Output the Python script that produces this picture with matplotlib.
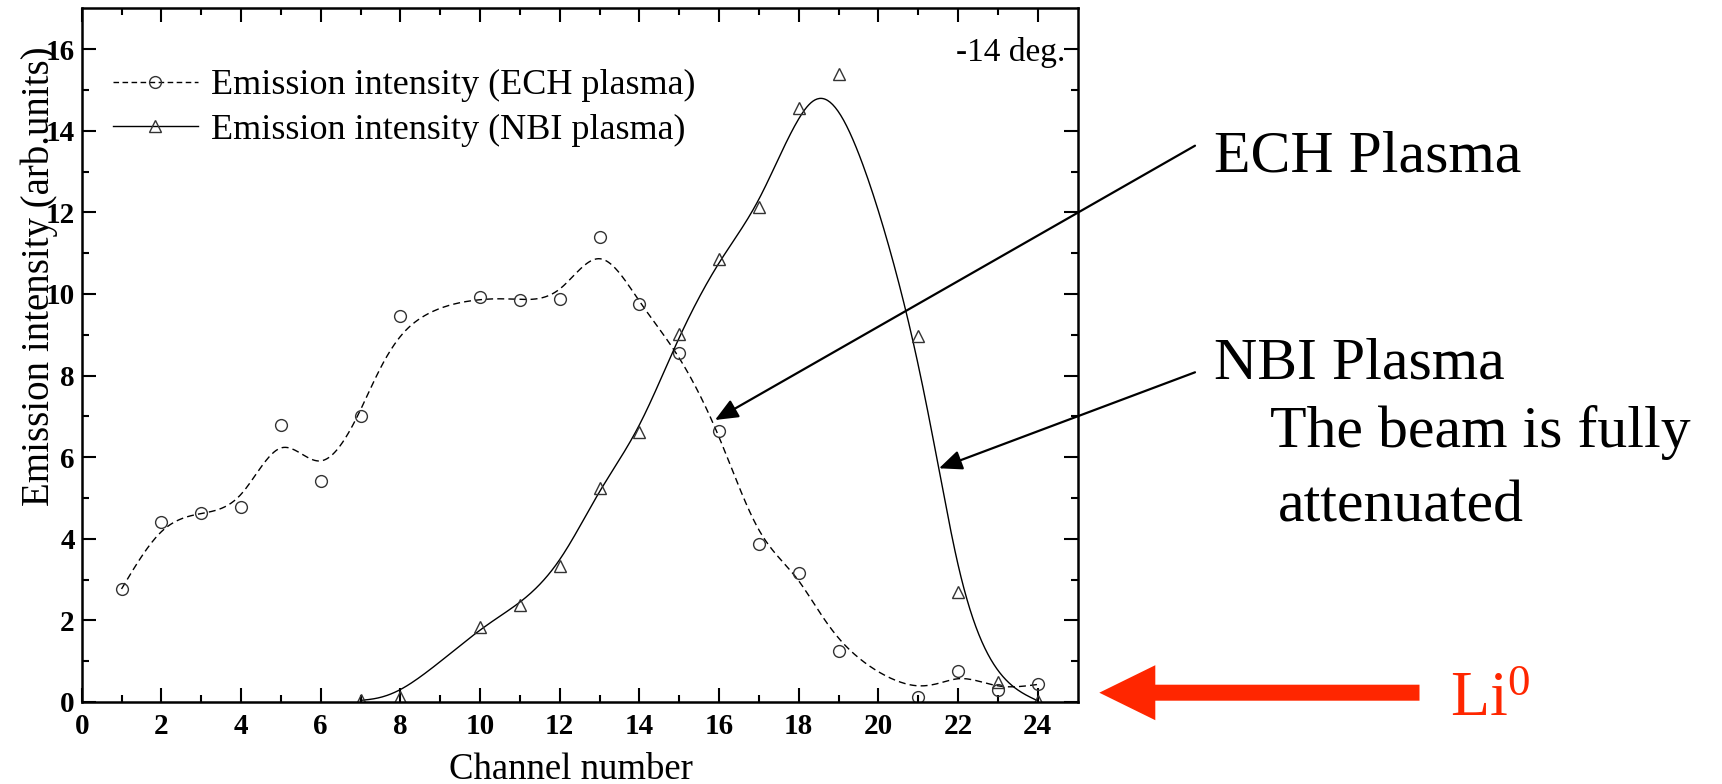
import numpy as np
import matplotlib
matplotlib.use('Agg')
import matplotlib.pyplot as plt
import matplotlib.patches as mpatches
from matplotlib.lines import Line2D

plt.rcParams['font.family'] = 'serif'
plt.rcParams['font.serif'] = ['Liberation Serif', 'DejaVu Serif']
plt.rcParams['mathtext.fontset'] = 'custom'
plt.rcParams['mathtext.rm'] = 'Liberation Serif'
plt.rcParams['mathtext.it'] = 'Liberation Serif:italic'

W, H = 1722, 784

# data
ech_ch = [1, 2, 3, 4, 5, 6, 7, 8, 10, 11, 12, 13, 14, 15, 16, 17, 18, 19, 21, 22, 23, 24]
ech_val = [2.77, 4.41, 4.63, 4.78, 6.79, 5.41, 7.02, 9.47, 9.93, 9.85, 9.87, 11.39,
           9.75, 8.55, 6.63, 3.88, 3.17, 1.26, 0.12, 0.75, 0.30, 0.43]
nbi_ch = [7, 8, 10, 11, 12, 13, 14, 15, 16, 17, 18, 19, 21, 22, 23, 24]
nbi_val = [0.04, 0.13, 1.83, 2.38, 3.33, 5.24, 6.62, 9.02, 10.85, 12.13, 14.55, 15.40,
           8.97, 2.69, 0.49, 0.03]
xticks = list(range(0, 25, 2))
yticks = list(range(0, 17, 2))


def bspline(x, y, n=40):
    # uniform cubic B-spline using the points as control polygon
    p = np.column_stack([x, y]).astype(float)
    p = np.vstack([2 * p[0] - p[1], p, 2 * p[-1] - p[-2]])
    t = np.linspace(0, 1, n, endpoint=False)
    b = np.column_stack([(1 - t) ** 3,
                         3 * t ** 3 - 6 * t ** 2 + 4,
                         -3 * t ** 3 + 3 * t ** 2 + 3 * t + 1,
                         t ** 3]) / 6.0
    segs = [b @ p[i:i + 4] for i in range(len(p) - 3)]
    segs.append(p[-2:-1])
    c = np.vstack(segs)
    return c[:, 0], c[:, 1]


def fig_xy(px, py):
    return px / W, 1 - py / H


fig = plt.figure(figsize=(W / 100, H / 100), dpi=100)
ax = fig.add_axes([81.7 / W, 1 - 702 / H, 995.8 / W, 693.7 / H])

mk = dict(markersize=8.5, markerfacecolor='none', markeredgecolor='#333333',
          markeredgewidth=1.0, linestyle='none')

ex, ey = bspline(ech_ch, ech_val)
ax.plot(ex, ey, color='black', lw=1.0, ls=(0, (5, 3)))
ax.plot(ech_ch, ech_val, marker='o', **mk)

nx, ny = bspline(nbi_ch, nbi_val)
ax.plot(nx, ny, color='black', lw=1.0)
ax.plot(nbi_ch, nbi_val, marker='^', **mk)

ax.set_xlim(0, 25)
ax.set_ylim(0, 17)
ax.set_xticks(xticks, [str(v) for v in xticks], fontsize=21, fontweight='bold')
ax.set_yticks(yticks, [str(v) for v in yticks], fontsize=21, fontweight='bold')
ax.set_xticks(range(1, 25, 2), minor=True)
ax.set_yticks(range(1, 17, 2), minor=True)
ax.tick_params(which='both', direction='in', top=True, right=True, width=1.5)
ax.tick_params(which='major', length=10)
ax.tick_params(which='minor', length=5)
ax.tick_params(axis='x', pad=8)
ax.tick_params(axis='y', pad=5)
for s in ax.spines.values():
    s.set_linewidth(1.8)

ax.set_xlabel('Channel number', fontsize=26.5)
ax.xaxis.label.set_va('baseline')
ax.xaxis.set_label_coords((571 - 81.7) / 995.8, (702 - 779) / 693.7)
ax.set_ylabel('Emission intensity (arb.units)', fontsize=28)
ax.yaxis.label.set(va='center', ha='center', rotation_mode='default')
ax.yaxis.set_label_coords((39 - 81.7) / 995.8, (702 - 276) / 693.7)

handles = [
    Line2D([], [], color='black', lw=1.0, ls=(0, (4, 2.5)), marker='o',
           markersize=8.5, markerfacecolor='none', markeredgecolor='#333333'),
    Line2D([], [], color='black', lw=1.0, marker='^',
           markersize=8.5, markerfacecolor='none', markeredgecolor='#333333'),
]
ax.legend(handles, ['Emission intensity (ECH plasma)', 'Emission intensity (NBI plasma)'],
          loc='upper left', bbox_to_anchor=fig_xy(113, 69), bbox_transform=fig.transFigure,
          frameon=False, fontsize=26, handlelength=2.35, handletextpad=0.36,
          labelspacing=0.32, borderpad=0, borderaxespad=0)

fig.text(*fig_xy(1065, 61), '-14 deg.', fontsize=24, ha='right', va='baseline')

# annotations on the right
fs_big = 43
fig.text(*fig_xy(1214, 171.7), 'ECH Plasma', fontsize=fs_big, va='baseline')
fig.text(*fig_xy(1214, 378.3), 'NBI Plasma', fontsize=fs_big, va='baseline')
fig.text(*fig_xy(1270, 446.7), 'The beam is fully', fontsize=fs_big, va='baseline')
fig.text(*fig_xy(1278, 521.7), 'attenuated', fontsize=fs_big, va='baseline')

arrow_kw = dict(arrowstyle='-|>,head_length=0.7,head_width=0.3', color='black',
                lw=1.6, mutation_scale=20, shrinkA=0, shrinkB=0)
ax.annotate('', xy=fig_xy(715, 420), xytext=fig_xy(1195, 145.7),
            xycoords='figure fraction', textcoords='figure fraction',
            arrowprops=arrow_kw, annotation_clip=False)
ax.annotate('', xy=fig_xy(939, 468.3), xytext=fig_xy(1195, 372.3),
            xycoords='figure fraction', textcoords='figure fraction',
            arrowprops=arrow_kw, annotation_clip=False)

# red beam arrow
red = '#ff2600'
ya = (H - 692.7) / 100
fig.patches.append(mpatches.FancyArrow(14.195, ya, -3.202, 0, width=0.16, head_width=0.55,
                                       head_length=0.56, length_includes_head=True,
                                       color=red, lw=0, transform=fig.dpi_scale_trans))
fig.text(*fig_xy(1450, 715.7), 'Li$^{0}$', fontsize=46, color=red, va='baseline')

fig.savefig('out.png', dpi=100)
